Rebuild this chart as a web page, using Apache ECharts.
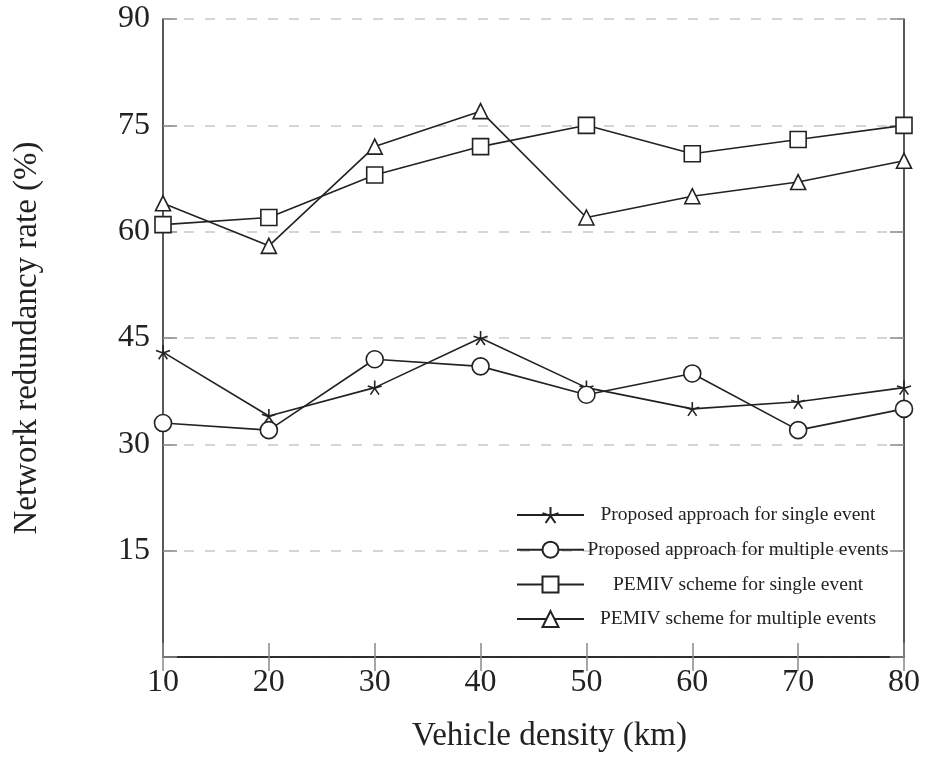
<!DOCTYPE html>
<html><head><meta charset="utf-8">
<script src="https://cdn.jsdelivr.net/npm/echarts@6/dist/echarts.min.js"></script>
<style>html,body{margin:0;padding:0;background:#fff}#c{width:949px;height:759px}</style>
</head><body><div id="c"></div>
<script>
const xValues = [10, 20, 30, 40, 50, 60, 70, 80];
const proposedSingle = [43, 34, 38, 45, 38, 35, 36, 38];
const proposedMultiple = [33, 32, 42, 41, 37, 40, 32, 35];
const pemivSingle = [61, 62, 68, 72, 75, 71, 73, 75];
const pemivMultiple = [64, 58, 72, 77, 62, 65, 67, 70];
const seriesNames = [
  'Proposed approach for single event',
  'Proposed approach for multiple events',
  'PEMIV scheme for single event',
  'PEMIV scheme for multiple events'
];
const xLabel = 'Vehicle density (km)';
const yLabel = 'Network redundancy rate (%)';

const FONT = '"Liberation Serif", "DejaVu Serif", serif';
const INK = '#222';
const starPath = 'path://M0,-1L0,0M0,0L0.951,-0.309M0,0L0.588,0.809M0,0L-0.588,0.809M0,0L-0.951,-0.309';

function pairs(vals) { return xValues.map((x, i) => [x, vals[i]]); }
function mk(name, vals, symbol, size) {
  return {
    name, type: 'line', data: pairs(vals), symbol, symbolSize: size,
    lineStyle: { color: INK, width: 1.6 },
    itemStyle: { color: '#fff', borderColor: INK, borderWidth: 1.6 },
    emphasis: { disabled: true }, z: 3
  };
}
const chart = echarts.init(document.getElementById('c'), null, { renderer: 'canvas' });
const tickStyle = { inside: true, length: 14, lineStyle: { color: '#8a8a8a', width: 1.5 } };
chart.setOption({
  animation: false,
  backgroundColor: '#fff',
  grid: { left: 163, right: 45, top: 19, bottom: 102 },
  legend: {
    orient: 'vertical', left: 511, top: 500, itemWidth: 67, itemHeight: 20, itemGap: 14.7,
    data: seriesNames,
    formatter: n => '{a|' + n + '}',
    textStyle: { fontFamily: FONT, fontSize: 19.5, color: INK,
      rich: { a: { width: 298, height: 20, lineHeight: 20, align: 'center', fontFamily: FONT, fontSize: 19.5, color: INK } } }
  },
  xAxis: [{
    type: 'value', min: 10, max: 80, interval: 10,
    name: xLabel, nameLocation: 'middle', nameGap: 63,
    nameTextStyle: { fontFamily: FONT, fontSize: 33, color: INK, padding: [0, 0, 0, 32] },
    axisLine: { lineStyle: { color: INK, width: 1.5 } },
    axisTick: tickStyle,
    axisLabel: { fontFamily: FONT, fontSize: 32, color: INK, margin: 10 },
    splitLine: { show: false }
  }, {
    type: 'value', position: 'top', min: 10, max: 80, interval: 10,
    axisLine: { lineStyle: { color: INK, width: 1.5 } },
    axisTick: tickStyle, axisLabel: { show: false }, splitLine: { show: false }
  }],
  yAxis: [{
    type: 'value', min: 0, max: 90, interval: 15,
    name: yLabel, nameLocation: 'middle', nameGap: 119,
    nameTextStyle: { fontFamily: FONT, fontSize: 33, color: INK },
    axisLine: { show: true, lineStyle: { color: INK, width: 1.5 } },
    axisTick: tickStyle,
    axisLabel: { fontFamily: FONT, fontSize: 32, color: INK, margin: 13,
      formatter: v => v === 0 ? '' : String(v) },
    splitLine: { show: true, lineStyle: { color: '#c8c8c8', width: 1.5, type: [10, 11] } }
  }, {
    type: 'value', position: 'right', min: 0, max: 90, interval: 15,
    axisLine: { show: true, lineStyle: { color: INK, width: 1.5 } },
    axisTick: tickStyle, axisLabel: { show: false }, splitLine: { show: false }
  }],
  series: [
    mk(seriesNames[0], proposedSingle, starPath, 14),
    mk(seriesNames[1], proposedMultiple, 'circle', 17),
    mk(seriesNames[2], pemivSingle, 'rect', 16),
    mk(seriesNames[3], pemivMultiple, 'triangle', 15)
  ]
});
</script></body></html>
